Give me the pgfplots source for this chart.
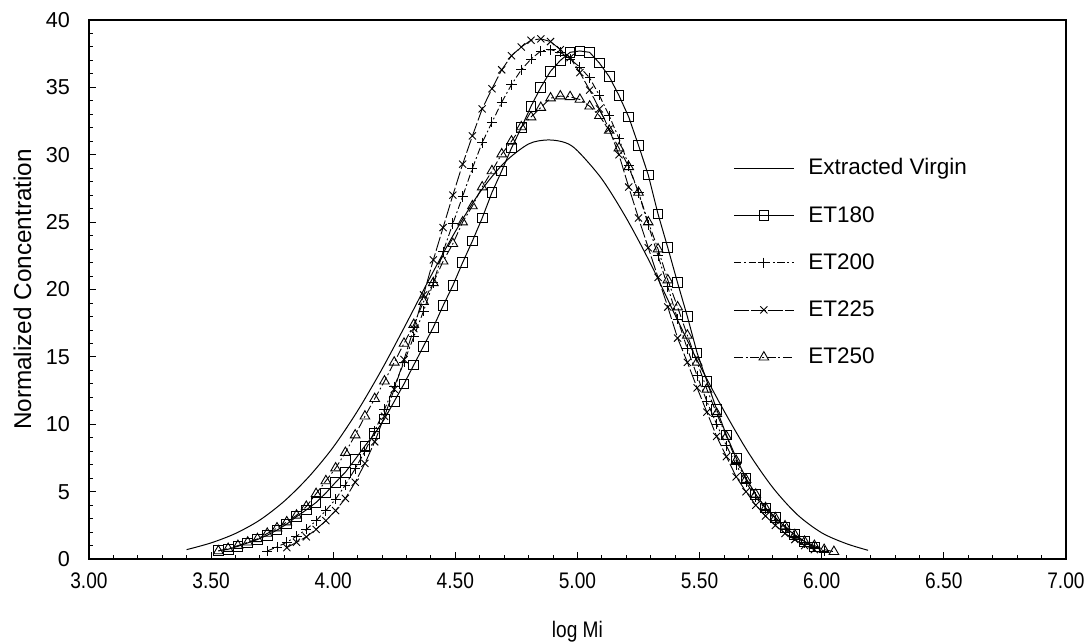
\documentclass[border=0pt]{standalone}
\usepackage{fontspec}
\setmainfont{Liberation Sans}
\newfontfamily\narrowfont[FakeStretch=0.85]{Liberation Sans}
\usepackage{pgfplots}
\pgfplotsset{compat=1.18}

\pgfplotstableread{
x y
3.40 0.7
3.50 1.2
3.60 1.9
3.70 2.9
3.80 4.3
3.90 6.1
4.00 8.3
4.10 11.0
4.20 14.1
4.30 17.5
4.40 21.0
4.50 24.3
4.60 27.2
4.70 29.4
4.80 30.8
4.88 31.1
4.95 30.9
5.00 30.3
5.10 28.2
5.20 25.3
5.30 21.9
5.40 18.1
5.50 14.4
5.60 11.0
5.70 7.9
5.80 5.3
5.90 3.3
6.00 1.95
6.10 1.15
6.19 0.65
}\virgin

\pgfplotstableread{
x y
3.53 0.62
3.57 0.73
3.61 0.95
3.65 1.2
3.69 1.45
3.73 1.77
3.77 2.15
3.81 2.6
3.85 3.15
3.89 3.65
3.93 4.2
3.97 4.9
4.01 5.7
4.05 6.45
4.09 7.4
4.13 8.4
4.17 9.3
4.21 10.4
4.25 11.7
4.29 13.0
4.33 14.4
4.37 15.8
4.41 17.2
4.45 18.8
4.49 20.3
4.53 22.0
4.57 23.6
4.61 25.3
4.65 27.2
4.69 28.8
4.73 30.5
4.77 32.0
4.81 33.6
4.85 35.0
4.89 36.2
4.93 37.0
4.97 37.6
5.01 37.7
5.05 37.6
5.09 36.8
5.13 35.8
5.17 34.4
5.21 32.8
5.25 30.7
5.29 28.5
5.33 25.6
5.37 23.1
5.41 20.5
5.45 18.0
5.49 15.3
5.53 13.2
5.57 11.1
5.61 9.2
5.65 7.5
5.69 6.0
5.73 4.8
5.77 3.8
5.81 3.1
5.85 2.35
5.89 1.8
5.93 1.3
5.97 0.9
}\etoneeighty

\pgfplotstableread{
x y
3.73 0.6
3.77 0.9
3.81 1.25
3.85 1.7
3.89 2.2
3.93 2.85
3.97 3.6
4.01 4.45
4.05 5.5
4.09 6.7
4.13 8.0
4.17 9.5
4.21 11.1
4.25 12.8
4.29 14.6
4.33 16.5
4.37 18.4
4.41 20.5
4.45 22.8
4.49 24.9
4.53 26.9
4.57 29.0
4.61 30.9
4.65 32.4
4.69 33.9
4.73 35.2
4.77 36.3
4.81 37.1
4.85 37.7
4.89 37.8
4.93 37.6
4.97 37.1
5.01 36.5
5.05 35.7
5.09 34.4
5.13 32.9
5.17 31.2
5.21 29.2
5.25 27.2
5.29 24.8
5.33 22.5
5.37 20.2
5.41 17.8
5.45 15.6
5.49 13.6
5.53 11.7
5.57 10.0
5.61 8.4
5.65 7.0
5.69 5.7
5.73 4.6
5.77 3.7
5.81 2.9
5.85 2.2
5.89 1.7
5.93 1.2
5.97 0.9
6.01 0.6
}\ettwohundred

\pgfplotstableread{
x y
3.81 0.85
3.85 1.25
3.89 1.65
3.93 2.2
3.97 2.85
4.01 3.6
4.05 4.5
4.09 5.7
4.13 7.1
4.17 8.7
4.21 10.6
4.25 12.6
4.29 14.8
4.33 17.1
4.37 19.6
4.41 22.2
4.45 24.6
4.49 27.0
4.53 29.3
4.57 31.4
4.61 33.4
4.65 34.9
4.69 36.3
4.73 37.35
4.77 38.0
4.81 38.5
4.85 38.6
4.89 38.4
4.93 37.8
4.97 37.2
5.01 36.1
5.05 34.8
5.09 33.4
5.13 31.9
5.17 30.0
5.21 27.6
5.25 25.3
5.29 23.1
5.33 20.9
5.37 18.7
5.41 16.4
5.45 14.6
5.49 12.7
5.53 10.9
5.57 9.1
5.61 7.6
5.65 6.1
5.69 5.0
5.73 4.0
5.77 3.2
5.81 2.5
5.85 1.9
5.89 1.45
5.93 1.0
5.97 0.7
}\ettwotwentyfive

\pgfplotstableread{
x y
3.53 0.6
3.57 0.78
3.61 1.0
3.65 1.25
3.69 1.5
3.73 1.9
3.77 2.3
3.81 2.75
3.85 3.25
3.89 3.9
3.93 4.85
3.97 5.8
4.01 6.75
4.05 7.9
4.09 9.2
4.13 10.6
4.17 11.9
4.21 13.2
4.25 14.6
4.29 16.0
4.33 17.4
4.37 19.1
4.41 20.5
4.45 22.1
4.49 23.4
4.53 25.0
4.57 26.2
4.61 27.6
4.65 28.8
4.69 30.05
4.73 31.0
4.77 32.06
4.81 32.8
4.85 33.5
4.89 34.2
4.93 34.35
4.97 34.3
5.01 34.1
5.05 33.6
5.09 32.9
5.13 31.8
5.17 30.5
5.21 29.1
5.25 27.2
5.29 25.0
5.33 23.0
5.37 20.7
5.41 18.7
5.45 16.6
5.49 14.6
5.53 12.6
5.57 10.8
5.61 9.1
5.65 7.3
5.69 5.9
5.73 4.8
5.77 3.8
5.81 3.05
5.85 2.45
5.89 1.8
5.93 1.3
5.97 1.0
6.01 0.7
6.05 0.55
}\ettwofifty

\begin{document}
\begin{tikzpicture}
\path[use as bounding box] (-49.4pt,-46.6pt) rectangle (554.5pt,310.6pt);
\begin{axis}[
  scale only axis, width=542.8pt, height=299.5pt,
  at={(0,0)}, anchor=south west,
  xmin=3, xmax=7, ymin=0, ymax=40,
  xtick={3,3.5,4,4.5,5,5.5,6,6.5,7},
  ytick={0,5,10,15,20,25,30,35,40},
  minor x tick num=4, minor y tick num=4,
  tick align=inside, xtick pos=left, ytick pos=left,
  major tick length=4pt, minor tick length=2.5pt,
  tick style={black, line width=0.5pt},
  axis line style={line width=0.8pt},
  /pgf/number format/assume math mode=true,
  xticklabel={\pgfmathprintnumber[fixed,fixed zerofill,precision=2]{\tick}},
  xticklabel style={font=\narrowfont\fontsize{12.5}{14}\selectfont, yshift=-4pt},
  yticklabel style={font=\fontsize{12}{14}\selectfont, xshift=-7pt},
  xlabel={log Mi},
  ylabel={Normalized Concentration},
  xlabel style={font=\narrowfont\fontsize{12.5}{14}\selectfont, at={(axis description cs:0.5,-0.135)}, anchor=center},
  ylabel style={font=\fontsize{13.5}{15}\selectfont, at={(axis description cs:-0.068,0.5)}, anchor=center, rotate=0},
  legend style={draw=none, fill=none, at={(axis description cs:0.654,0.757)}, anchor=north west,
    font=\fontsize{12.5}{14}\selectfont, row sep=12pt},
  legend cell align=left,
  legend image code/.code={%
    \draw[mark repeat=2,mark phase=2] plot coordinates {(0pt,0pt) (16.5pt,0pt) (33pt,0pt)};
    \path (39pt,0pt);},
]
  % extracted virgin, plain line
  \addplot[black, line width=0.55pt, smooth] table[x=x,y=y] {\virgin};
  \addlegendentry{Extracted Virgin}
  \addplot[black, line width=0.55pt, mark=square, mark size=2.7pt, mark options={solid, fill=white}] table[x=x,y=y] {\etoneeighty};
  \addlegendentry{ET180}
  \addplot[black, line width=0.5pt, dash pattern=on 4pt off 1.5pt on 1pt off 1.5pt, mark=+, mark size=2.8pt, mark options={solid}] table[x=x,y=y] {\ettwohundred};
  \addlegendentry{ET200}
  \addplot[black, line width=0.5pt, dash pattern=on 8pt off 1.5pt, mark=x, mark size=2.8pt, mark options={solid}] table[x=x,y=y] {\ettwotwentyfive};
  \addlegendentry{ET225}
  \addplot[black, line width=0.5pt, dash pattern=on 5pt off 1.5pt on 1pt off 1.5pt, mark=triangle, mark size=3.1pt, mark options={solid, fill=white}] table[x=x,y=y] {\ettwofifty};
  \addlegendentry{ET250}
\end{axis}
\end{tikzpicture}
\end{document}
